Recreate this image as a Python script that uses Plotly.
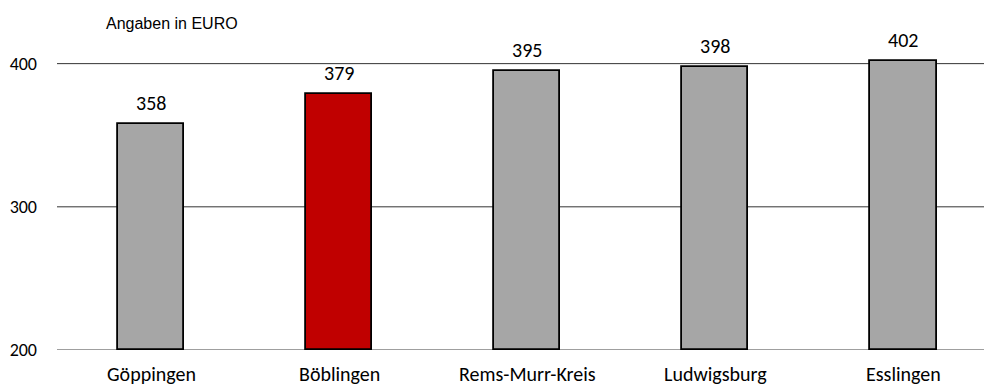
import plotly.graph_objects as go

# Kreise und Werte (Angaben in EURO)
kreise = ["Göppingen", "Böblingen", "Rems-Murr-Kreis", "Ludwigsburg", "Esslingen"]
werte = [358, 379, 395, 398, 402]
farben = ["#a6a6a6", "#c00000", "#a6a6a6", "#a6a6a6", "#a6a6a6"]
y_ticks = [200, 300, 400]

label_font = "Carlito, Calibri, Lato, 'Open Sans', sans-serif"

fig = go.Figure()
fig.add_trace(go.Bar(
    x=list(range(len(kreise))),
    y=[w - 200 for w in werte],
    base=200,
    width=0.355,
    marker=dict(color=farben, line=dict(color="#000000", width=1.8)),
    hoverinfo="skip",
))

# Hilfslinien hinter den Säulen
for t in y_ticks:
    fig.add_shape(type="line", xref="paper", yref="y", x0=0, x1=1, y0=t, y1=t,
                  layer="below",
                  line=dict(color="#7f7f7f" if t == 200 else "#333333",
                            width=1.5 if t == 200 else 1))

# Wertbeschriftung über den Säulen
for i, w in enumerate(werte):
    fig.add_annotation(x=i, y=w, xref="x", yref="y", text=str(w),
                       showarrow=False, yanchor="bottom", yshift=7,
                       font=dict(family=label_font, size=20, color="#000000"))

# Kategorienbeschriftung unter der Achse
for i, k in enumerate(kreise):
    fig.add_annotation(x=i, y=200, xref="x", yref="y", text=k,
                       showarrow=False, yanchor="top", yshift=-10,
                       font=dict(family=label_font, size=20, color="#000000"))

fig.add_annotation(x=(104 - 57) / 927, y=1 + (35 - 24) / 315, xref="paper", yref="paper",
                   text="Angaben in EURO", showarrow=False,
                   xanchor="left", yanchor="middle",
                   font=dict(family="Liberation Sans, Arial, sans-serif", size=16,
                             color="#000000"))

fig.update_layout(
    width=984, height=386,
    margin=dict(l=57, r=0, t=35, b=36),
    plot_bgcolor="#ffffff", paper_bgcolor="#ffffff",
    showlegend=False,
    bargap=0,
    xaxis=dict(range=[-0.5, 4.43], showticklabels=False, showgrid=False,
               zeroline=False, showline=False, ticks=""),
    yaxis=dict(range=[200, 420], tickvals=y_ticks, ticktext=[str(t) for t in y_ticks],
               showgrid=False, zeroline=False,
               showline=False, ticks="", ticklabelstandoff=19,
               tickfont=dict(family=label_font, size=18, color="#000000")),
)

fig.write_html("out.html")
